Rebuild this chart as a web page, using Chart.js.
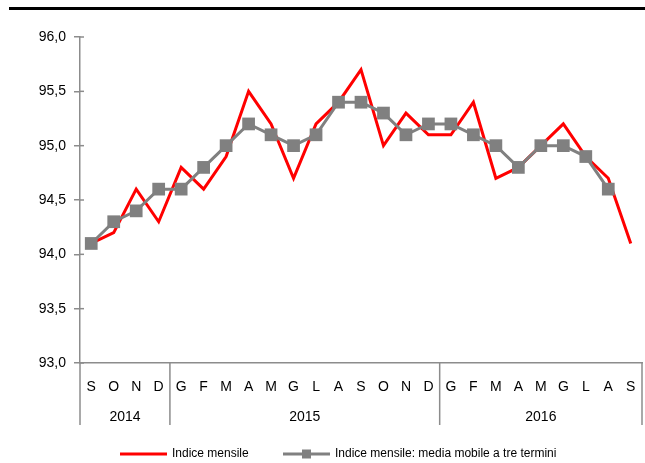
<!DOCTYPE html>
<html>
<head>
<meta charset="utf-8">
<script src="https://cdn.jsdelivr.net/npm/chart.js@4.4.1/dist/chart.umd.min.js"></script>
<style>
  body { margin: 0; background: #fff; }
  #wrap { position: relative; width: 645px; height: 463px; }
  #rule { position: absolute; left: 9px; top: 7px; width: 636px; height: 3px; background: #000; }
</style>
</head>
<body>
<div id="wrap">
  <div id="rule"></div>
  <canvas id="chart" width="645" height="463"></canvas>
</div>
<script>
const MONTHS = ['S','O','N','D','G','F','M','A','M','G','L','A','S','O','N','D','G','F','M','A','M','G','L','A','S'];
const YEARS = [
    { label: '2014', from: 0, to: 3 },
    { label: '2015', from: 4, to: 15 },
    { label: '2016', from: 16, to: 24 }
];
const INDICE = [94.1, 94.2, 94.6, 94.3, 94.8, 94.6, 94.9, 95.5, 95.2, 94.7, 95.2, 95.4, 95.7,
                95.0, 95.3, 95.1, 95.1, 95.4, 94.7, 94.8, 95.0, 95.2, 94.9, 94.7, 94.1];
const MEDIA = [94.1, 94.3, 94.4, 94.6, 94.6, 94.8, 95.0, 95.2, 95.1, 95.0, 95.1, 95.4, 95.4,
               95.3, 95.1, 95.2, 95.2, 95.1, 95.0, 94.8, 95.0, 95.0, 94.9, 94.6, null];
const LEGEND = ['Indice mensile', 'Indice mensile: media mobile a tre termini'];

const RED = '#ff0000';
const GREY = '#808080';
const AXIS = '#8c8c8c';
const FONT = '"Liberation Sans", Arial, sans-serif';

const extras = {
    id: 'extras',
    afterDraw(chart) {
        const ctx = chart.ctx;
        const x = chart.scales.x, y = chart.scales.y;
        const half = (x.getPixelForValue(1) - x.getPixelForValue(0)) / 2;
        const bottom = y.bottom, sepBottom = bottom + 62;
        ctx.save();
        ctx.strokeStyle = AXIS; ctx.lineWidth = 1.5;
        // right half of the y ticks
        y.ticks.forEach((t, i) => {
            const py = y.getPixelForTick(i);
            ctx.beginPath(); ctx.moveTo(x.left, py); ctx.lineTo(x.left + 4, py); ctx.stroke();
        });
        // group separators
        const seps = [x.left];
        YEARS.forEach(g => seps.push(x.getPixelForValue(g.to) + half));
        seps.forEach(px => {
            ctx.beginPath(); ctx.moveTo(px, bottom); ctx.lineTo(px, sepBottom); ctx.stroke();
        });
        // year labels
        ctx.fillStyle = '#000'; ctx.font = '14px ' + FONT;
        ctx.textAlign = 'center'; ctx.textBaseline = 'middle';
        YEARS.forEach(g => {
            const cx = (x.getPixelForValue(g.from) - half + x.getPixelForValue(g.to) + half) / 2;
            ctx.fillText(g.label, cx, bottom + 54);
        });
        // legend
        const ly = 454;
        ctx.font = '12px ' + FONT; ctx.textAlign = 'left';
        ctx.lineWidth = 3;
        ctx.strokeStyle = RED;
        ctx.beginPath(); ctx.moveTo(120, ly); ctx.lineTo(167, ly); ctx.stroke();
        ctx.fillText(LEGEND[0], 172, ly);
        ctx.strokeStyle = GREY;
        ctx.beginPath(); ctx.moveTo(283, ly); ctx.lineTo(330, ly); ctx.stroke();
        ctx.fillStyle = GREY; ctx.fillRect(302, ly - 4.5, 9, 9);
        ctx.fillStyle = '#000';
        ctx.fillText(LEGEND[1], 335, ly);
        ctx.restore();
    }
};

new Chart(document.getElementById('chart').getContext('2d'), {
    type: 'line',
    data: {
        labels: MONTHS,
        datasets: [
            { label: LEGEND[1], data: MEDIA, borderColor: GREY, backgroundColor: GREY, borderWidth: 3,
              pointStyle: 'rect', pointRadius: 9, pointHoverRadius: 9, pointBorderWidth: 0, order: 0 },
            { label: LEGEND[0], data: INDICE, borderColor: RED, borderWidth: 3,
              pointRadius: 0, pointHoverRadius: 0, order: 1 }
        ]
    },
    options: {
        responsive: false, animation: false,
        events: [],
        layout: { autoPadding: false, padding: { top: 37, right: 3, left: 0, bottom: 0 } },
        plugins: { legend: { display: false }, tooltip: { enabled: false } },
        elements: { line: { tension: 0 } },
        scales: {
            x: {
                offset: true,
                grid: { display: true, drawOnChartArea: false, drawTicks: true, tickLength: 14, color: 'rgba(0,0,0,0)' },
                border: { display: true, color: AXIS, width: 1.5 },
                ticks: { autoSkip: false, maxRotation: 0, color: '#000', padding: 2, font: { family: FONT, size: 14 } },
                afterFit: s => { s.height = 100; s.paddingLeft = 0; s.paddingRight = 0; }
            },
            y: {
                min: 93, max: 96,
                grid: { drawOnChartArea: false, drawTicks: true, tickLength: 6, color: AXIS, lineWidth: 1.5 },
                border: { display: true, color: AXIS, width: 1.5 },
                ticks: { stepSize: 0.5, color: '#000', padding: 8, font: { family: FONT, size: 14 },
                         callback: v => v.toFixed(1).replace('.', ',') },
                afterFit: s => { s.width = 80; }
            }
        }
    },
    plugins: [extras]
});
</script>
</body>
</html>
